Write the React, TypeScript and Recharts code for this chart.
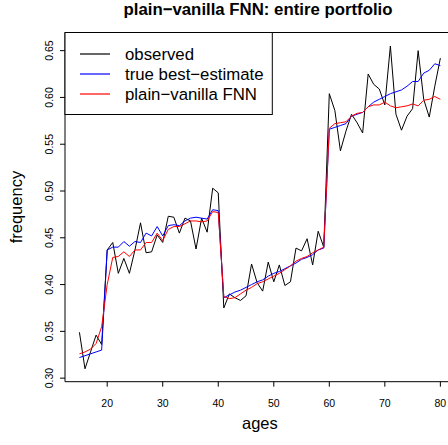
import React from 'react';
import { LineChart, Line, XAxis, YAxis, ReferenceArea } from 'recharts';

const ages = [
  15, 16, 17, 18, 19, 20, 21, 22, 23, 24, 25, 26, 27, 28, 29, 30, 31, 32, 33, 34, 35, 36,
  37, 38, 39, 40, 41, 42, 43, 44, 45, 46, 47, 48, 49, 50, 51, 52, 53, 54, 55, 56, 57, 58,
  59, 60, 61, 62, 63, 64, 65, 66, 67, 68, 69, 70, 71, 72, 73, 74, 75, 76, 77, 78, 79, 80,
];

const observed = [
  0.349, 0.310, 0.328, 0.346, 0.336, 0.437, 0.445, 0.412, 0.428, 0.412, 0.437, 0.466, 0.434, 0.435,
  0.453, 0.445, 0.473, 0.472, 0.455, 0.471, 0.468, 0.438, 0.471, 0.456, 0.503, 0.498, 0.375, 0.390,
  0.386, 0.383, 0.388, 0.422, 0.402, 0.393, 0.424, 0.403, 0.421, 0.399, 0.403, 0.439, 0.436, 0.449,
  0.421, 0.457, 0.440, 0.604, 0.586, 0.543, 0.564, 0.582, 0.573, 0.562, 0.625, 0.614, 0.609, 0.592,
  0.655, 0.582, 0.565, 0.580, 0.588, 0.650, 0.598, 0.579, 0.612, 0.642,
];

const trueBestEstimate = [
  0.322, 0.324, 0.326, 0.328, 0.330, 0.437, 0.440, 0.440, 0.446, 0.441, 0.446, 0.445, 0.455, 0.452,
  0.462, 0.452, 0.463, 0.464, 0.463, 0.468, 0.471, 0.472, 0.471, 0.470, 0.480, 0.479, 0.386, 0.389,
  0.392, 0.394, 0.397, 0.400, 0.403, 0.405, 0.409, 0.412, 0.414, 0.417, 0.420, 0.423, 0.427, 0.429,
  0.432, 0.437, 0.439, 0.566, 0.568, 0.570, 0.572, 0.580, 0.582, 0.584, 0.590, 0.595, 0.598, 0.601,
  0.604, 0.606, 0.608, 0.612, 0.617, 0.617, 0.626, 0.629, 0.636, 0.634,
];

const plainVanillaFNN = [
  0.326, 0.328, 0.331, 0.337, 0.355, 0.400, 0.429, 0.430, 0.435, 0.430, 0.437, 0.437, 0.445, 0.445,
  0.455, 0.447, 0.459, 0.462, 0.462, 0.465, 0.468, 0.468, 0.467, 0.468, 0.478, 0.477, 0.387, 0.385,
  0.386, 0.390, 0.394, 0.397, 0.401, 0.403, 0.406, 0.409, 0.412, 0.416, 0.420, 0.425, 0.428, 0.430,
  0.434, 0.437, 0.440, 0.567, 0.572, 0.573, 0.574, 0.580, 0.583, 0.584, 0.590, 0.592, 0.592, 0.595,
  0.591, 0.589, 0.590, 0.591, 0.593, 0.591, 0.597, 0.598, 0.601, 0.598,
];

const xTicks = [20, 30, 40, 50, 60, 70, 80];
const yTicks = [0.3, 0.35, 0.4, 0.45, 0.5, 0.55, 0.6, 0.65];
const seriesKeys = ['observed', 'trueBest', 'fnn'];
const seriesNames = ['observed', 'true best\u2212estimate', 'plain\u2212vanilla FNN'];
const seriesColors = ['#000000', '#0000ff', '#ff0000'];
const chartTitle = 'plain\u2212vanilla FNN: entire portfolio';
const xLabel = 'ages';
const yLabel = 'frequency';

const X_DOMAIN: [number, number] = [12.4, 82.6];
const Y_DOMAIN: [number, number] = [0.2962, 0.6694];

const FONT = '"Liberation Sans", Arial, Helvetica, sans-serif';

const data = ages.map((age, i) => ({
  age,
  observed: observed[i],
  trueBest: trueBestEstimate[i],
  fnn: plainVanillaFNN[i],
}));

const XTick = (props: any) => {
  const { x, y, payload } = props;
  return (
    <text x={x} y={y + 18.5} textAnchor="middle" fontSize={10.5} fill="#000">
      {String(payload.value)}
    </text>
  );
};

const YTick = (props: any) => {
  const { x, y, payload } = props;
  const bx = x - 4.5;
  return (
    <text
      x={bx}
      y={y}
      textAnchor="middle"
      fontSize={10.5}
      fill="#000"
      transform={`rotate(-90, ${bx}, ${y})`}
    >
      {Number(payload.value).toFixed(2)}
    </text>
  );
};

const renderXLabel = (props: any) => {
  const vb = props.viewBox || { x: 65, width: 390 };
  return (
    <text x={vb.x + vb.width / 2} y={429} textAnchor="middle" fontSize={16.5} fill="#000">
      {xLabel}
    </text>
  );
};

const renderYLabel = (props: any) => {
  const vb = props.viewBox || { y: 32.5, height: 349 };
  const cy = vb.y + vb.height / 2;
  return (
    <text
      x={22}
      y={cy}
      textAnchor="middle"
      fontSize={16.5}
      fill="#000"
      transform={`rotate(-90, 22, ${cy})`}
    >
      {yLabel}
    </text>
  );
};

const LegendOverlay = () => (
  <svg width={210} height={85} style={{ position: 'absolute', left: 64, top: 32, display: 'block' }}>
    <rect x={1} y={0.5} width={207.3} height={82} fill="#ffffff" stroke="#000000" strokeWidth={1} />
    {seriesNames.map((name, i) => {
      const cy = 22 + i * 20;
      return (
        <g key={seriesKeys[i]}>
          <line x1={16} x2={46} y1={cy} y2={cy} stroke={seriesColors[i]} strokeWidth={1.2} />
          <text x={61} y={cy + 6} fontSize={16.8} fill="#000000">
            {name}
          </text>
        </g>
      );
    })}
  </svg>
);

export default function App() {
  return (
    <div
      style={{
        position: 'absolute',
        left: 0,
        top: 0,
        width: 448,
        height: 445,
        overflow: 'hidden',
        background: '#fff',
        fontFamily: FONT,
      }}
    >
      <svg width={448} height={30} style={{ position: 'absolute', left: 0, top: 0 }}>
        <text x={258} y={15} textAnchor="middle" fontSize={16.8} fontWeight="bold" fill="#000">
          {chartTitle}
        </text>
      </svg>
      <LineChart
        width={460}
        height={445}
        data={data}
        margin={{ top: 32.5, right: 5.2, bottom: 23.3, left: 0 }}
      >
        <XAxis
          dataKey="age"
          type="number"
          domain={X_DOMAIN}
          ticks={xTicks}
          allowDataOverflow
          interval={0}
          height={40}
          tickSize={5}
          axisLine={false}
          tickLine={{ stroke: '#000' }}
          tick={<XTick />}
          label={renderXLabel}
        />
        <YAxis
          type="number"
          domain={Y_DOMAIN}
          ticks={yTicks}
          allowDataOverflow
          interval={0}
          width={65}
          tickSize={5}
          axisLine={false}
          tickLine={{ stroke: '#000' }}
          tick={<YTick />}
          label={renderYLabel}
        />
        <ReferenceArea
          x1={X_DOMAIN[0]}
          x2={X_DOMAIN[1]}
          y1={Y_DOMAIN[0]}
          y2={Y_DOMAIN[1]}
          fill="none"
          stroke="#000"
          strokeWidth={1}
          ifOverflow="visible"
        />
        {seriesKeys.map((key, i) => (
          <Line
            key={key}
            type="linear"
            dataKey={key}
            name={seriesNames[i]}
            stroke={seriesColors[i]}
            strokeWidth={1}
            dot={false}
            isAnimationActive={false}
          />
        ))}
      </LineChart>
      <LegendOverlay />
    </div>
  );
}
